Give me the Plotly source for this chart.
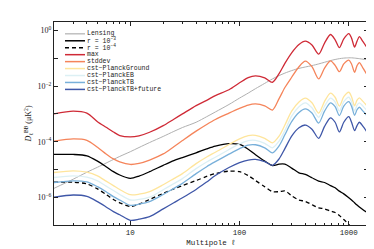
import plotly.graph_objects as go

# multipole grid (read positions)
ell = [2, 3, 4, 5, 6, 7, 8, 10, 12, 15, 20, 25, 30, 40, 50, 60, 80, 100, 120, 140, 170, 200,
       230, 260, 300, 350, 400, 460, 530, 600, 680, 750, 820, 900, 1000, 1060, 1130, 1190, 1250, 1350, 1500]

# log10 of D_ell^BB [uK^2]
lensing_log = [-5.68, -5.35, -5.10, -4.92, -4.77, -4.64, -4.53, -4.36, -4.21, -4.03, -3.81, -3.63, -3.49, -3.30, -3.10, -2.93, -2.66, -2.43, -2.25, -2.09, -1.90, -1.74,
               -1.62, -1.53, -1.44, -1.36, -1.31, -1.26, -1.20, -1.14, -1.08, -1.04, -1.01, -0.99, -0.98, -0.98, -0.99, -1.00, -1.01, -1.03, -1.05]
r1e3_log = [-4.46, -4.46, -4.51, -4.70, -4.90, -5.08, -5.20, -5.32, -5.24, -5.08, -4.85, -4.68, -4.57, -4.40, -4.26, -4.16, -4.07, -4.10, -4.27, -4.47, -4.70, -4.86,
            -4.81, -4.81, -4.95, -5.12, -5.18, -5.30, -5.42, -5.47, -5.58, -5.66, -5.78, -5.88, -6.02, -6.10, -6.20, -6.28, -6.35, -6.45, -6.57]
r1e4_log = [-5.46, -5.46, -5.52, -5.70, -5.90, -6.08, -6.20, -6.33, -6.25, -6.08, -5.86, -5.70, -5.58, -5.40, -5.25, -5.15, -5.06, -5.08, -5.22, -5.40, -5.62, -5.80,
            -5.80, -5.77, -5.95, -6.10, -6.15, -6.27, -6.38, -6.42, -6.50, -6.55, -6.66, -6.80, -6.98, -7.10, None, None, None, None, None]
max_log = [-3.00, -2.90, -2.97, -3.28, -3.48, -3.65, -3.78, -3.83, -3.79, -3.66, -3.42, -3.19, -3.00, -2.70, -2.51, -2.34, -2.13, -1.88, -1.69, -1.63, -1.70, -1.86,
           -1.55, -1.18, -0.80, -0.50, -0.38, -0.52, -0.85, -0.45, -0.14, -0.33, -0.61, -0.30, -0.11, -0.27, -0.59, -0.38, -0.22, -0.40, -0.67]
stddev_log = [-3.98, -3.90, -3.95, -4.20, -4.44, -4.62, -4.73, -4.82, -4.78, -4.66, -4.44, -4.18, -3.96, -3.62, -3.38, -3.20, -2.97, -2.80, -2.68, -2.64, -2.71, -2.86,
              -2.45, -2.05, -1.68, -1.30, -1.10, -1.30, -1.74, -1.35, -1.09, -1.25, -1.48, -1.20, -1.06, -1.20, -1.50, -1.26, -1.15, -1.35, -1.65]
ground_log = [-5.11, -5.05, -5.10, -5.23, -5.42, -5.58, -5.72, -5.91, -5.89, -5.80, -5.55, -5.33, -5.15, -4.79, -4.55, -4.38, -4.10, -3.90, -3.78, -3.77, -3.88, -4.04,
              -3.80, -3.40, -2.90, -2.57, -2.43, -2.60, -2.97, -2.55, -2.25, -2.40, -2.72, -2.38, -2.22, -2.38, -2.71, -2.50, -2.42, -2.55, -2.76]
eb_log = [-5.29, -5.23, -5.28, -5.41, -5.60, -5.76, -5.90, -6.10, -6.08, -6.00, -5.73, -5.51, -5.33, -4.97, -4.73, -4.56, -4.28, -4.08, -3.96, -3.95, -4.06, -4.22,
          -3.98, -3.60, -3.08, -2.74, -2.60, -2.78, -3.12, -2.72, -2.43, -2.57, -2.90, -2.56, -2.40, -2.56, -2.90, -2.68, -2.60, -2.72, -2.93]
tb_log = [-5.47, -5.41, -5.45, -5.62, -5.80, -5.98, -6.10, -6.29, -6.25, -6.16, -5.90, -5.68, -5.50, -5.15, -4.90, -4.72, -4.45, -4.25, -4.12, -4.11, -4.22, -4.40,
          -4.15, -3.75, -3.28, -2.95, -2.82, -2.97, -3.33, -2.90, -2.60, -2.74, -3.06, -2.72, -2.56, -2.72, -3.05, -2.85, -2.76, -2.90, -3.10]
future_log = [-6.00, -5.92, -5.97, -6.16, -6.35, -6.52, -6.63, -6.83, -6.79, -6.70, -6.42, -6.20, -6.02, -5.72, -5.45, -5.22, -4.93, -4.75, -4.66, -4.64, -4.72, -4.85,
              -4.62, -4.25, -3.80, -3.50, -3.40, -3.55, -3.88, -3.45, -3.14, -3.30, -3.65, -3.30, -3.10, -3.30, -3.60, -3.42, -3.30, -3.45, -3.70]

names = ["Lensing", "r = 10<sup>−3</sup>", "r = 10<sup>−4</sup>", "max", "stddev",
         "cst−PlanckGround", "cst−PlanckEB", "cst−PlanckTB", "cst−PlanckTB+future"]
series = [lensing_log, r1e3_log, r1e4_log, max_log, stddev_log, ground_log, eb_log, tb_log, future_log]
colors = ["#b0b0b0", "#000000", "#000000", "#cf2a36", "#f5845a", "#fee59c", "#dcf0f4", "#78b0da", "#3f57a8"]
widths = [1.0, 1.3, 1.3, 1.3, 1.3, 1.3, 1.3, 1.3, 1.3]
dashes = ["solid", "solid", "4px,3px", "solid", "solid", "solid", "solid", "solid", "solid"]

ylabel_exp = [0, -2, -4, -6]
yminor_exp = [-1, -3, -5, -7]
xtick_vals = [10, 100, 1000]

fig = go.Figure()
for nm, s, c, w, d in zip(names, series, colors, widths, dashes):
    yv = [None if v is None else 10 ** v for v in s]
    fig.add_trace(go.Scatter(x=ell, y=yv, mode="lines", name=nm, showlegend=False,
                             line=dict(color=c, width=w, dash=d, shape="spline", smoothing=0.8)))

# manual legend (top-left inside the axes)
shapes = []
annotations = []
for i, (nm, c, w, d) in enumerate(zip(names, colors, widths, dashes)):
    yy = 0.9417 - 0.03422 * i
    shapes.append(dict(type="line", xref="paper", yref="paper", x0=0.035, x1=0.0987, y0=yy, y1=yy,
                       line=dict(color=c, width=w + 0.2, dash=d)))
    annotations.append(dict(xref="paper", yref="paper", x=0.102, y=yy, text=nm, showarrow=False,
                            xanchor="left", yanchor="middle", borderpad=0,
                            font=dict(family="Liberation Mono", size=6.5, color="#222")))

minor_vals = [m * 10 ** k for k in range(0, 4) for m in range(2, 10) if 2 <= m * 10 ** k <= 1500]

fig.update_layout(
    width=374, height=249,
    margin=dict(l=46, r=14, t=14, b=29),
    paper_bgcolor="white", plot_bgcolor="white",
    shapes=shapes, annotations=annotations,
    font=dict(family="Liberation Mono", size=7.5, color="#222"),
    xaxis=dict(type="log", range=[0.301, 3.176], showgrid=False, zeroline=False,
               showline=True, linecolor="#222", linewidth=1, mirror="ticks",
               ticks="inside", ticklen=4, tickcolor="#222", tickwidth=0.8,
               tickvals=xtick_vals, ticktext=[str(v) for v in xtick_vals],
               minor=dict(tickvals=minor_vals, ticks="inside", ticklen=2, tickcolor="#222", tickwidth=0.6, showgrid=False),
               title=dict(text="Multipole ℓ", standoff=3, font=dict(family="Liberation Mono", size=7.5))),
    yaxis=dict(type="log", range=[-7, 0.31], showgrid=False, zeroline=False,
               showline=True, linecolor="#222", linewidth=1, mirror="ticks",
               ticks="inside", ticklen=4, tickcolor="#222", tickwidth=0.8,
               tickvals=[10 ** e for e in ylabel_exp],
               ticktext=["10<sup>%s</sup>" % str(e).replace("-", "−") for e in ylabel_exp],
               minor=dict(tickvals=[10 ** e for e in yminor_exp], ticks="inside", ticklen=4,
                          tickcolor="#222", tickwidth=0.8, showgrid=False),
               tickfont=dict(family="Liberation Serif", size=8),
               title=dict(text="<i>D</i><sub>ℓ</sub><sup>BB</sup> (μK<sup>2</sup>)", standoff=4,
                          font=dict(family="Liberation Serif", size=8))),
)

fig.write_html("out.html")
